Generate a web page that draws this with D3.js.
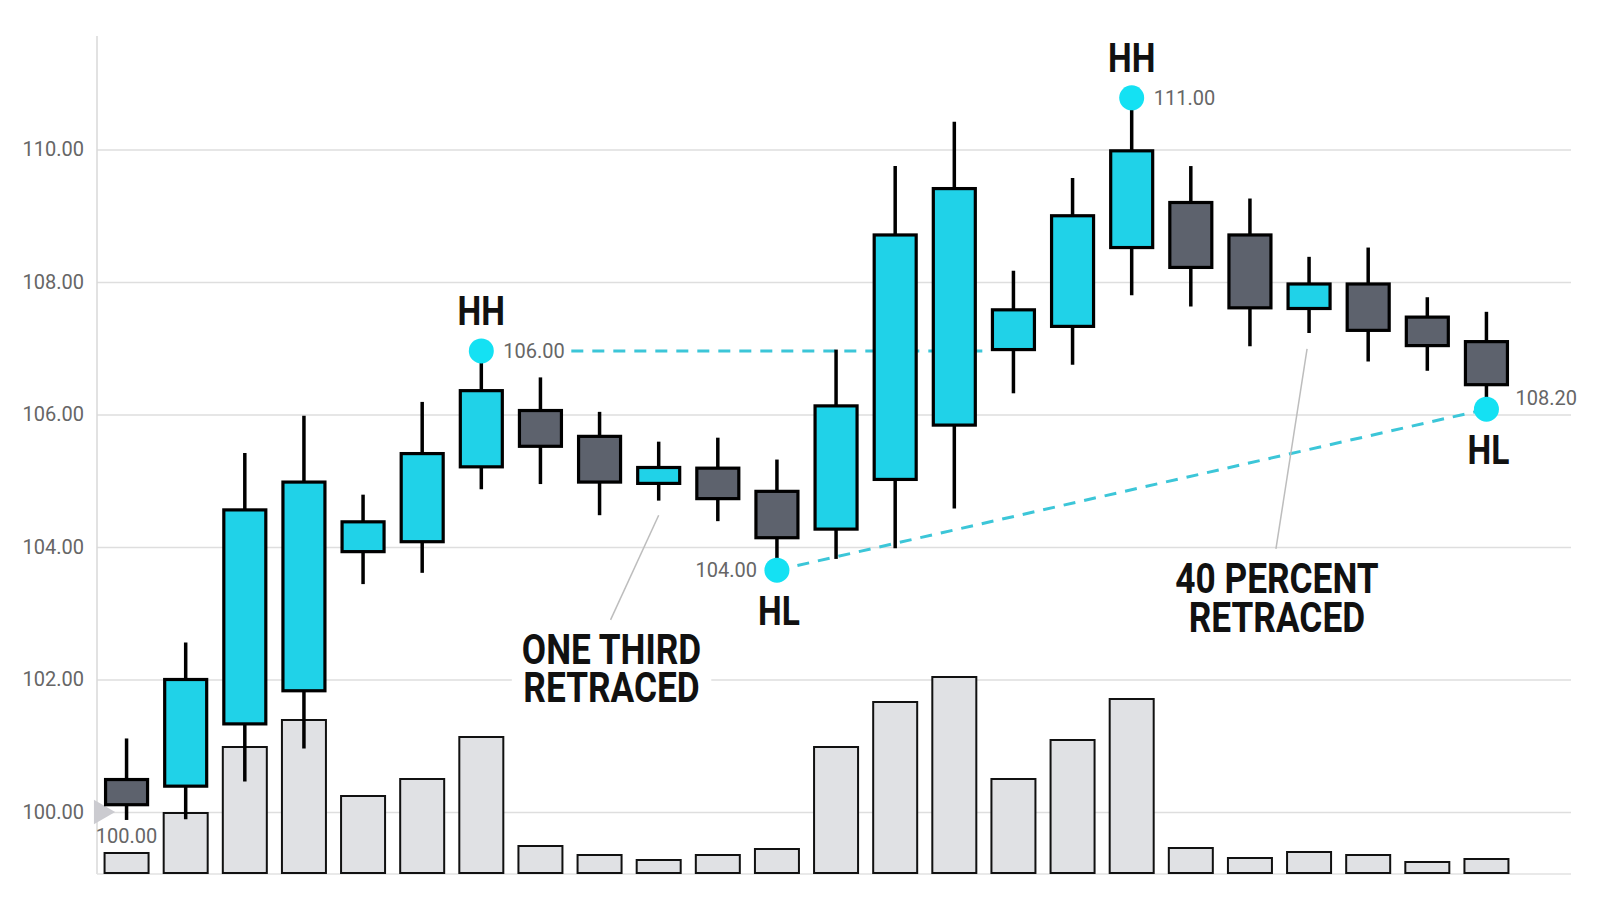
<!DOCTYPE html>
<html>
<head>
<meta charset="utf-8">
<script src="https://cdn.jsdelivr.net/npm/d3@7/dist/d3.min.js"></script>
<style>
  html, body { margin: 0; padding: 0; background: #fff; }
  svg { display: block; }
</style>
</head>
<body>
<svg id="chart" width="1600" height="914"></svg>
<script>
// candle data
const opens  = [100.49, 100.39, 101.33, 101.83, 103.93, 104.08, 105.21, 106.06, 105.67, 104.96, 105.19, 104.84,
                104.27, 105.02, 105.84, 106.98, 107.33, 108.52, 109.20, 108.71, 107.60, 107.97, 107.47, 107.10];
const closes = [100.11, 102.00, 104.56, 104.98, 104.38, 105.41, 106.36, 105.52, 104.98, 105.20, 104.73, 104.14,
                106.13, 108.71, 109.41, 107.58, 109.00, 109.98, 108.22, 107.61, 107.97, 107.27, 107.04, 106.45];
const highs  = [101.11, 102.56, 105.42, 105.98, 104.79, 106.19, 106.96, 106.56, 106.04, 105.59, 105.65, 105.32,
                106.98, 109.75, 110.42, 108.17, 109.57, 110.78, 109.75, 109.26, 108.38, 108.52, 107.77, 107.55];
const lows   = [99.88, 99.89, 100.46, 100.96, 103.44, 103.61, 104.87, 104.95, 104.48, 104.70, 104.39, 103.65,
                103.82, 103.98, 104.58, 106.32, 106.75, 107.80, 107.63, 107.03, 107.23, 106.80, 106.66, 106.08];
const volumes = [20, 60, 126, 153, 77, 94, 136, 27, 18, 13, 18, 24, 126, 171, 196, 94, 133, 174, 25, 15, 21, 18, 11, 14];

const yTicks = [100, 102, 104, 106, 108, 110];

// swing points
const pivotIdx  = [6, 11, 17, 23];
const pivotTags = ['HH', 'HL', 'HH', 'HL'];
const pivotText = ['106.00', '104.00', '111.00', '108.20'];

const startPrice = 100;
const startText = '100.00';

const noteLines = [['ONE THIRD', 'RETRACED'], ['40 PERCENT', 'RETRACED']];

const CYAN = '#20d2e8', DARK = '#5d626d', DOT = '#14e1f3', DASH = '#3cc6d8';
const numFont = 'Roboto, "Noto Sans", sans-serif';
const boldFont = 'Roboto, "Noto Sans", sans-serif';
const squeeze = 0.84; // poor man's condensed face

const svg = d3.select('#chart');
const plotL = 97, plotR = 1571, plotB = 874, plotT = 36;

const idx = d3.range(opens.length);
const x = d3.scaleBand().domain(idx).range([97, 1516]).padding(0);
const xc = i => x(i) + x.bandwidth() / 2;
const y = d3.scaleLinear().domain([100, 110]).range([812, 149.5]);
const yv = d3.scaleLinear().domain([0, 200]).range([plotB - 1, plotB - 201]);

// grid + y axis labels
const yAxis = d3.axisLeft(y).tickValues(yTicks).tickSize(-(plotR - plotL)).tickPadding(13)
  .tickFormat(d3.format('.2f'));
const gAxis = svg.append('g').attr('transform', `translate(${plotL},0)`).call(yAxis);
gAxis.select('.domain').remove();
gAxis.selectAll('.tick line').attr('stroke', '#dedede').attr('stroke-width', 1.5);
gAxis.selectAll('.tick text').attr('fill', '#666').attr('font-family', numFont).attr('font-size', 20);

svg.append('line').attr('x1', plotL).attr('x2', plotL).attr('y1', plotT).attr('y2', plotB)
  .attr('stroke', '#d8d8d8').attr('stroke-width', 1.5);
svg.append('line').attr('x1', plotL).attr('x2', plotR).attr('y1', plotB).attr('y2', plotB)
  .attr('stroke', '#e2e2e2').attr('stroke-width', 1.5);

// volume bars
svg.append('g').selectAll('rect').data(idx).join('rect')
  .attr('x', i => xc(i) - 22)
  .attr('width', 44)
  .attr('y', i => yv(volumes[i]))
  .attr('height', i => yv(0) - yv(volumes[i]))
  .attr('fill', '#e0e1e4').attr('stroke', '#111').attr('stroke-width', 2);

// start marker
svg.append('path')
  .attr('d', d3.symbol(d3.symbolTriangle, 260)())
  .attr('transform', `translate(${plotL + 4},${y(startPrice)}) rotate(90)`)
  .attr('fill', '#cbcbd0');
svg.append('text').attr('x', xc(0)).attr('y', y(startPrice) + 31)
  .attr('text-anchor', 'middle').attr('fill', '#666')
  .attr('font-family', numFont).attr('font-size', 20).text(startText);

// dashed trend lines (behind candles)
const p = pivotIdx.map((i, k) => ({ i, x: xc(i), y: pivotTags[k] === 'HH' ? y(highs[i]) : y(lows[i]) }));
svg.append('line')
  .attr('x1', p[0].x + 90).attr('x2', x(15))
  .attr('y1', p[0].y).attr('y2', p[0].y)
  .attr('stroke', DASH).attr('stroke-width', 3).attr('stroke-dasharray', '12,9');
svg.append('line')
  .attr('x1', p[1].x).attr('x2', p[3].x)
  .attr('y1', p[1].y).attr('y2', p[3].y)
  .attr('stroke', DASH).attr('stroke-width', 3).attr('stroke-dasharray', '12,9');

// leader lines
svg.append('line').attr('x1', xc(9)).attr('y1', y(104.48)).attr('x2', xc(8) + 11).attr('y2', y(102.9))
  .attr('stroke', '#bdbdbd').attr('stroke-width', 1.5);
svg.append('line').attr('x1', xc(20) - 2).attr('y1', y(106.99)).attr('x2', xc(19) + 26).attr('y2', y(103.97))
  .attr('stroke', '#bdbdbd').attr('stroke-width', 1.5);

// candles
const candles = svg.append('g').selectAll('g').data(idx).join('g');
candles.append('line')
  .attr('x1', xc).attr('x2', xc)
  .attr('y1', i => y(highs[i])).attr('y2', i => y(lows[i]))
  .attr('stroke', '#000').attr('stroke-width', 3.5);
candles.append('rect')
  .attr('x', i => xc(i) - 21)
  .attr('width', 42)
  .attr('y', i => y(Math.max(opens[i], closes[i])))
  .attr('height', i => Math.abs(y(opens[i]) - y(closes[i])))
  .attr('fill', i => closes[i] >= opens[i] ? CYAN : DARK)
  .attr('stroke', '#000').attr('stroke-width', 3.2);

function boldText(parent, px, py, size) {
  return parent.append('text')
    .attr('transform', `translate(${px},${py}) scale(${squeeze},1)`)
    .attr('text-anchor', 'middle').attr('font-family', boldFont).attr('font-weight', 700)
    .attr('font-size', size).attr('fill', '#111');
}

// pivot dots and labels
p.forEach((d, k) => {
  const hh = pivotTags[k] === 'HH';
  svg.append('circle').attr('cx', d.x).attr('cy', d.y).attr('r', 12.5).attr('fill', DOT);
  boldText(svg, d.x + (hh ? 0 : 2), hh ? d.y - 26 : d.y + 55, 40).text(pivotTags[k]);
  const t = svg.append('text').attr('fill', '#666').attr('font-family', numFont).attr('font-size', 20)
    .attr('dominant-baseline', 'central').text(pivotText[k]);
  if (k === 1) t.attr('x', d.x - 20).attr('y', d.y).attr('text-anchor', 'end');
  else if (k === 3) t.attr('x', d.x + 29).attr('y', d.y - 11);
  else t.attr('x', d.x + 22).attr('y', d.y);
});

// retracement notes
const notePos = [{ x: xc(8) + 12, y: y(102) - 16, bg: true }, { x: xc(19) + 27, y: y(104) + 46, bg: false }];
notePos.forEach((n, k) => {
  const g = svg.append('g');
  const bgRect = g.append('rect').attr('fill', '#fff');
  const t = boldText(g, n.x, n.y, 42);
  noteLines[k].forEach((s, j) => {
    t.append('tspan').attr('x', 0).attr('y', j * 39).text(s);
  });
  if (n.bg) {
    const b = t.node().getBBox();
    const w = b.width * squeeze;
    bgRect.attr('x', n.x - w / 2 - 10).attr('y', n.y + b.y).attr('width', w + 20).attr('height', b.height);
  }
});
</script>
</body>
</html>
